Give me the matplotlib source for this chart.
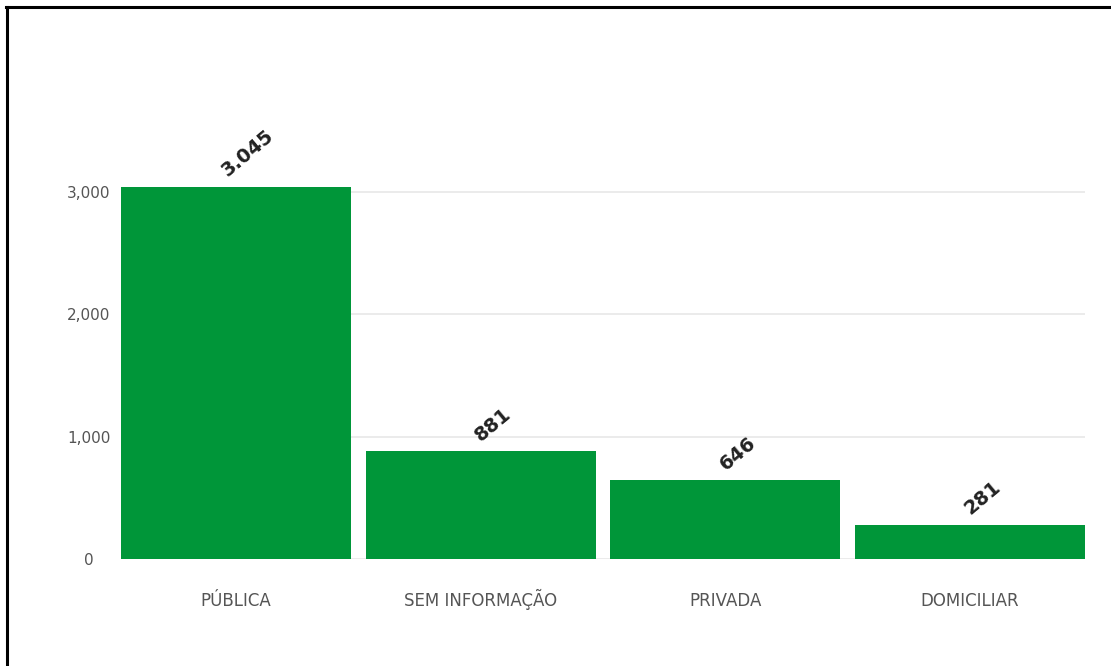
import matplotlib.pyplot as plt
from matplotlib.lines import Line2D

# data
categories = ['PÚBLICA', 'SEM INFORMAÇÃO', 'PRIVADA', 'DOMICILIAR']
values = [3045, 881, 646, 281]
value_labels = ['3.045', '881', '646', '281']
yticks = [0, 1000, 2000, 3000]
ytick_labels = ['0', '1,000', '2,000', '3,000']

bar_color = '#009639'

fig = plt.figure(figsize=(11.11, 6.66), dpi=100)
ax = fig.add_axes([121 / 1111, 1 - 559 / 666, (1085 - 121) / 1111, (559 - 131) / 666])

x = list(range(len(categories)))
bars = ax.bar(x, values, width=0.939, color=bar_color, zorder=2)

ax.set_xlim(-0.4695, 3.4695)
ax.set_ylim(0, 3500)

# gridlines
ax.set_yticks(yticks)
ax.set_yticklabels(ytick_labels)
ax.yaxis.grid(True, color='#e8e8e8', linewidth=1.2, zorder=0)
ax.set_axisbelow(True)
for side in ['top', 'right', 'left', 'bottom']:
    ax.spines[side].set_visible(False)
ax.tick_params(axis='both', length=0, colors='#555555')
ax.tick_params(axis='y', labelsize=11, pad=23)
ax.tick_params(axis='x', labelsize=12, pad=34)
for lbl in ax.get_yticklabels():
    lbl.set_horizontalalignment('center')
ax.set_xticks(x)
ax.set_xticklabels(categories)
for lbl in ax.get_xticklabels():
    lbl.set_verticalalignment('baseline')

# value labels, rotated
for xi, v, txt in zip(x, values, value_labels):
    ax.text(xi + 0.05, v + 50, txt, rotation=40, ha='center', va='bottom',
            fontsize=14, fontweight='bold', color='#222222')

# frame lines around the figure (left and top only)
fig.add_artist(Line2D([6.5 / 1111, 6.5 / 1111], [0, 1 - 6.5 / 666], color='black', linewidth=2.2,
                      transform=fig.transFigure))
fig.add_artist(Line2D([5.5 / 1111, 1], [1 - 6.5 / 666, 1 - 6.5 / 666], color='black', linewidth=2.2,
                      transform=fig.transFigure))

plt.savefig('out.png', dpi=100)
